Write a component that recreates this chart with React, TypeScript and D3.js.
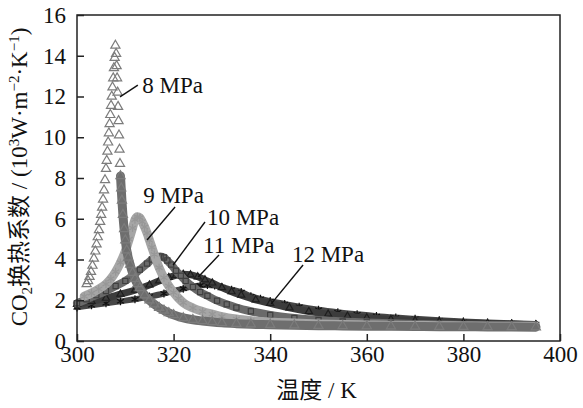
import React, { useEffect, useRef } from 'react';
import * as d3 from 'd3';

// temperatures (K) and heat transfer coefficients (10^3 W/m2K)
const temp8 = [302, 302.3, 302.6, 302.9, 303.2, 303.5, 303.8, 304.05, 304.3, 304.55, 304.8, 305, 305.2, 305.4, 305.6, 305.8, 306, 306.15, 306.3, 306.45,
  306.6, 306.75, 306.9, 307.05, 307.2, 307.35, 307.5, 307.65, 307.8, 307.95,
  308.1, 308.2, 308.3, 308.4, 308.5, 308.6, 308.7, 308.8, 308.9, 309, 309.15, 309.3, 309.5, 309.75, 310, 310.3, 310.6, 311, 311.5, 312, 312.5, 313,
  314, 315, 316, 317, 318, 319, 320, 322, 324, 326, 328, 330, 333, 336, 340, 345, 350, 355, 360, 365, 370, 375, 380, 385, 390, 395];
const h8 = [2.8, 2.95, 3.15, 3.4, 3.7, 4.05, 4.4, 4.75, 5.1, 5.45, 5.85, 6.2, 6.55, 6.95, 7.4, 7.9, 8.45, 8.85, 9.3, 9.75,
  10.2, 10.65, 11.1, 11.55, 12.0, 12.45, 12.9, 13.4, 13.9, 14.5,
  14.1, 13.5, 12.9, 12.2, 11.5, 10.8, 10.1, 9.4, 8.7, 8.1, 7.5, 6.9, 6.2, 5.5, 4.95, 4.45, 4.1, 3.75, 3.35, 3.05, 2.8, 2.6,
  2.25, 2.0, 1.8, 1.63, 1.5, 1.38, 1.28, 1.13, 1.04, 0.98, 0.93, 0.89, 0.85, 0.82, 0.8, 0.77, 0.75, 0.74, 0.73, 0.72, 0.71, 0.7, 0.7, 0.69, 0.69, 0.68];

const temp9 = [301.5, 303, 304.5, 306, 307, 308, 309, 310, 310.8, 311.5, 312, 312.5, 313, 313.5, 314, 314.5, 315, 315.5, 316, 317, 318, 319, 320, 321, 322,
  324, 326, 328, 330, 333, 336, 340, 345, 350, 355, 360, 365, 370, 375, 380, 385, 390, 395];
const h9 = [2.2, 2.35, 2.55, 2.8, 3.05, 3.4, 3.85, 4.4, 5.0, 5.55, 5.95, 6.1, 6.05, 5.85, 5.6, 5.3, 4.95, 4.6, 4.25, 3.6, 3.1, 2.7, 2.38, 2.1, 1.88,
  1.62, 1.45, 1.32, 1.2, 1.08, 1.0, 0.93, 0.88, 0.84, 0.81, 0.79, 0.77, 0.76, 0.75, 0.74, 0.73, 0.72, 0.72];

const temp10 = [300, 302, 304, 306, 308, 310, 311.5, 313, 314.5, 315.5, 316.5, 317.3, 318, 318.7, 319.5, 320.5, 321.5, 322.5, 324, 325.5, 327, 329, 331, 333,
  336, 340, 345, 350, 355, 360, 365, 370, 375, 380, 385, 390, 395];
const h10 = [1.85, 2.05, 2.25, 2.45, 2.7, 2.95, 3.2, 3.5, 3.8, 4.0, 4.12, 4.15, 4.1, 3.95, 3.75, 3.45, 3.2, 2.95, 2.65, 2.4, 2.22, 1.98, 1.8, 1.64,
  1.46, 1.28, 1.13, 1.03, 0.96, 0.91, 0.87, 0.84, 0.81, 0.79, 0.77, 0.76, 0.75];

const temp11 = [300, 303, 306, 309, 312, 315, 317, 319, 320.5, 322, 323.5, 325, 326.5, 328, 330, 332, 334, 337, 340, 344, 348, 352, 356, 360, 365, 370, 375,
  380, 385, 390, 395];
const h11 = [1.8, 1.95, 2.1, 2.3, 2.5, 2.75, 2.95, 3.12, 3.22, 3.27, 3.25, 3.15, 3.0, 2.85, 2.62, 2.42, 2.25, 2.02, 1.85, 1.63, 1.45, 1.32, 1.22, 1.14, 1.06,
  1.0, 0.95, 0.9, 0.86, 0.83, 0.8];

const temp12 = [300, 303, 306, 309, 312, 315, 318, 320, 322, 324, 325.5, 327, 328.5, 330, 332, 334, 336, 338, 340, 343, 346, 350, 354, 358, 362, 366, 370,
  375, 380, 385, 390, 395];
const h12 = [1.65, 1.75, 1.85, 1.95, 2.05, 2.18, 2.33, 2.45, 2.57, 2.68, 2.73, 2.75, 2.72, 2.65, 2.52, 2.4, 2.2, 2.07, 1.96, 1.82, 1.68, 1.53, 1.41, 1.31,
  1.22, 1.15, 1.09, 1.02, 0.96, 0.91, 0.87, 0.83];

const seriesNames = ['8 MPa', '9 MPa', '10 MPa', '11 MPa', '12 MPa'];
const xTicks = [300, 320, 340, 360, 380, 400];
const yTicks = [0, 2, 4, 6, 8, 10, 12, 14, 16];

// annotation text anchors and leader lines, in data units (K, 10^3 W/m2K)
const labelAt: [number, number][] = [[313.5, 12.17], [313.7, 6.77], [326.9, 5.69], [326.1, 4.32], [344.5, 3.88]];
const leaderFrom: [number, number][] = [[312.6, 12.56], [320.3, 6.58], [326.5, 5.84], [329.4, 4.22], [346.8, 3.73]];
const leaderTo: [number, number][] = [[308.9, 11.98], [314.5, 4.96], [319.9, 3.73], [325.1, 3.14], [340.2, 1.82]];

const W = 583;
const H = 408;
const FONT = '"Liberation Serif", "Times New Roman", "Noto Sans CJK SC", serif';

const styles = [
  { band: '#6e6e6e', bandWidth: 9, stroke: '#7c7c7c', symbol: d3.symbolTriangle2, size: 60, bandFrom: 309 },
  { band: '#a6a6a6', bandWidth: 9, stroke: '#979797', symbol: d3.symbolAsterisk, size: 45, bandFrom: 0 },
  { band: '#6a6a6a', bandWidth: 8, stroke: '#404040', symbol: d3.symbolSquare2, size: 34, bandFrom: 0 },
  { band: '#3c3c3c', bandWidth: 7, stroke: '#1e1e1e', symbol: d3.symbolTriangle2, size: 36, bandFrom: 0 },
  { band: '#474747', bandWidth: 6, stroke: '#111111', symbol: d3.symbolAsterisk, size: 45, bandFrom: 0 },
];

const App: React.FC = () => {
  const svgRef = useRef<SVGSVGElement>(null);

  useEffect(() => {
    if (!svgRef.current) return;
    const svg = d3.select(svgRef.current);
    svg.selectAll('*').remove();

    const margin = { top: 15, right: 23, bottom: 67, left: 77 };
    const x = d3.scaleLinear().domain([300, 400]).range([margin.left, W - margin.right]);
    const y = d3.scaleLinear().domain([0, 16]).range([H - margin.bottom, margin.top]);

    const temps = [temp8, temp9, temp10, temp11, temp12];
    const values = [h8, h9, h10, h11, h12];
    const series = seriesNames.map((name, i) => ({
      name,
      points: temps[i].map((t, j) => ({ t, h: values[i][j] })),
      ...styles[i],
    }));

    const line = d3
      .line<{ t: number; h: number }>()
      .x((d) => x(d.t))
      .y((d) => y(d.h))
      .curve(d3.curveMonotoneX);

    // draw 12 MPa first so 8 MPa ends up on top
    series
      .slice()
      .reverse()
      .forEach((s) => {
        const g = svg.append('g');
        g.append('path')
          .datum(s.points.filter((p) => p.t >= s.bandFrom))
          .attr('fill', 'none')
          .attr('stroke', s.band)
          .attr('stroke-width', s.bandWidth)
          .attr('stroke-linecap', 'round')
          .attr('stroke-linejoin', 'round')
          .attr('d', line);
        const sym = d3.symbol().type(s.symbol).size(s.size);
        g.selectAll('path.m')
          .data(s.points)
          .enter()
          .append('path')
          .attr('class', 'm')
          .attr('d', sym)
          .attr('transform', (d) => `translate(${x(d.t)},${y(d.h)})`)
          .attr('fill', 'none')
          .attr('stroke', s.stroke)
          .attr('stroke-width', 1.2);
      });

    // frame
    svg
      .append('rect')
      .attr('x', x(300))
      .attr('y', y(16))
      .attr('width', x(400) - x(300))
      .attr('height', y(0) - y(16))
      .attr('fill', 'none')
      .attr('stroke', '#222')
      .attr('stroke-width', 1.5);

    // axes with inward ticks
    const xAxis = svg
      .append('g')
      .attr('transform', `translate(0,${y(0)})`)
      .call(d3.axisBottom(x).tickValues(xTicks).tickSize(-7).tickPadding(5).tickFormat(d3.format('d')));
    const yAxis = svg
      .append('g')
      .attr('transform', `translate(${x(300)},0)`)
      .call(d3.axisLeft(y).tickValues(yTicks).tickSize(-7).tickPadding(11).tickFormat(d3.format('d')));
    [xAxis, yAxis].forEach((a) => {
      a.select('.domain').remove();
      a.selectAll('line').attr('stroke', '#222').attr('stroke-width', 1.5);
      a.selectAll('text').attr('font-family', FONT).attr('font-size', 23).attr('fill', '#111');
    });

    // series annotations
    series.forEach((s, i) => {
      svg
        .append('line')
        .attr('x1', x(leaderFrom[i][0]))
        .attr('y1', y(leaderFrom[i][1]))
        .attr('x2', x(leaderTo[i][0]))
        .attr('y2', y(leaderTo[i][1]))
        .attr('stroke', '#111')
        .attr('stroke-width', 1.4);
      svg
        .append('text')
        .attr('x', x(labelAt[i][0]))
        .attr('y', y(labelAt[i][1]))
        .attr('font-family', FONT)
        .attr('font-size', 23)
        .attr('fill', '#111')
        .text(s.name);
    });

    // x title
    svg
      .append('text')
      .attr('x', (x(300) + x(400)) / 2 - 2)
      .attr('y', 398)
      .attr('text-anchor', 'middle')
      .attr('font-family', FONT)
      .attr('font-size', 23)
      .attr('fill', '#111')
      .text('温度 / K');

    // y title, with sub/superscripts
    const yt = svg
      .append('text')
      .attr('transform', `translate(27,177) rotate(-90)`)
      .attr('text-anchor', 'middle')
      .attr('font-family', FONT)
      .attr('font-size', 23)
      .attr('fill', '#111');
    const parts: [string, number][] = [
      ['CO', 0], ['2', 1], ['换热系数 / (10', 0], ['3', -1], ['W·m', 0], ['−2', -1], ['·K', 0], ['−1', -1], [')', 0],
    ];
    let shift = 0;
    parts.forEach(([txt, kind]) => {
      const target = kind === 1 ? 5 : kind === -1 ? -8 : 0;
      yt.append('tspan')
        .attr('dy', target - shift)
        .attr('font-size', kind === 0 ? 23 : 15)
        .text(txt);
      shift = target;
    });
  }, []);

  return <svg ref={svgRef} width={W} height={H} style={{ position: 'absolute', left: 0, top: 0, background: '#fff' }} />;
};

export default App;
